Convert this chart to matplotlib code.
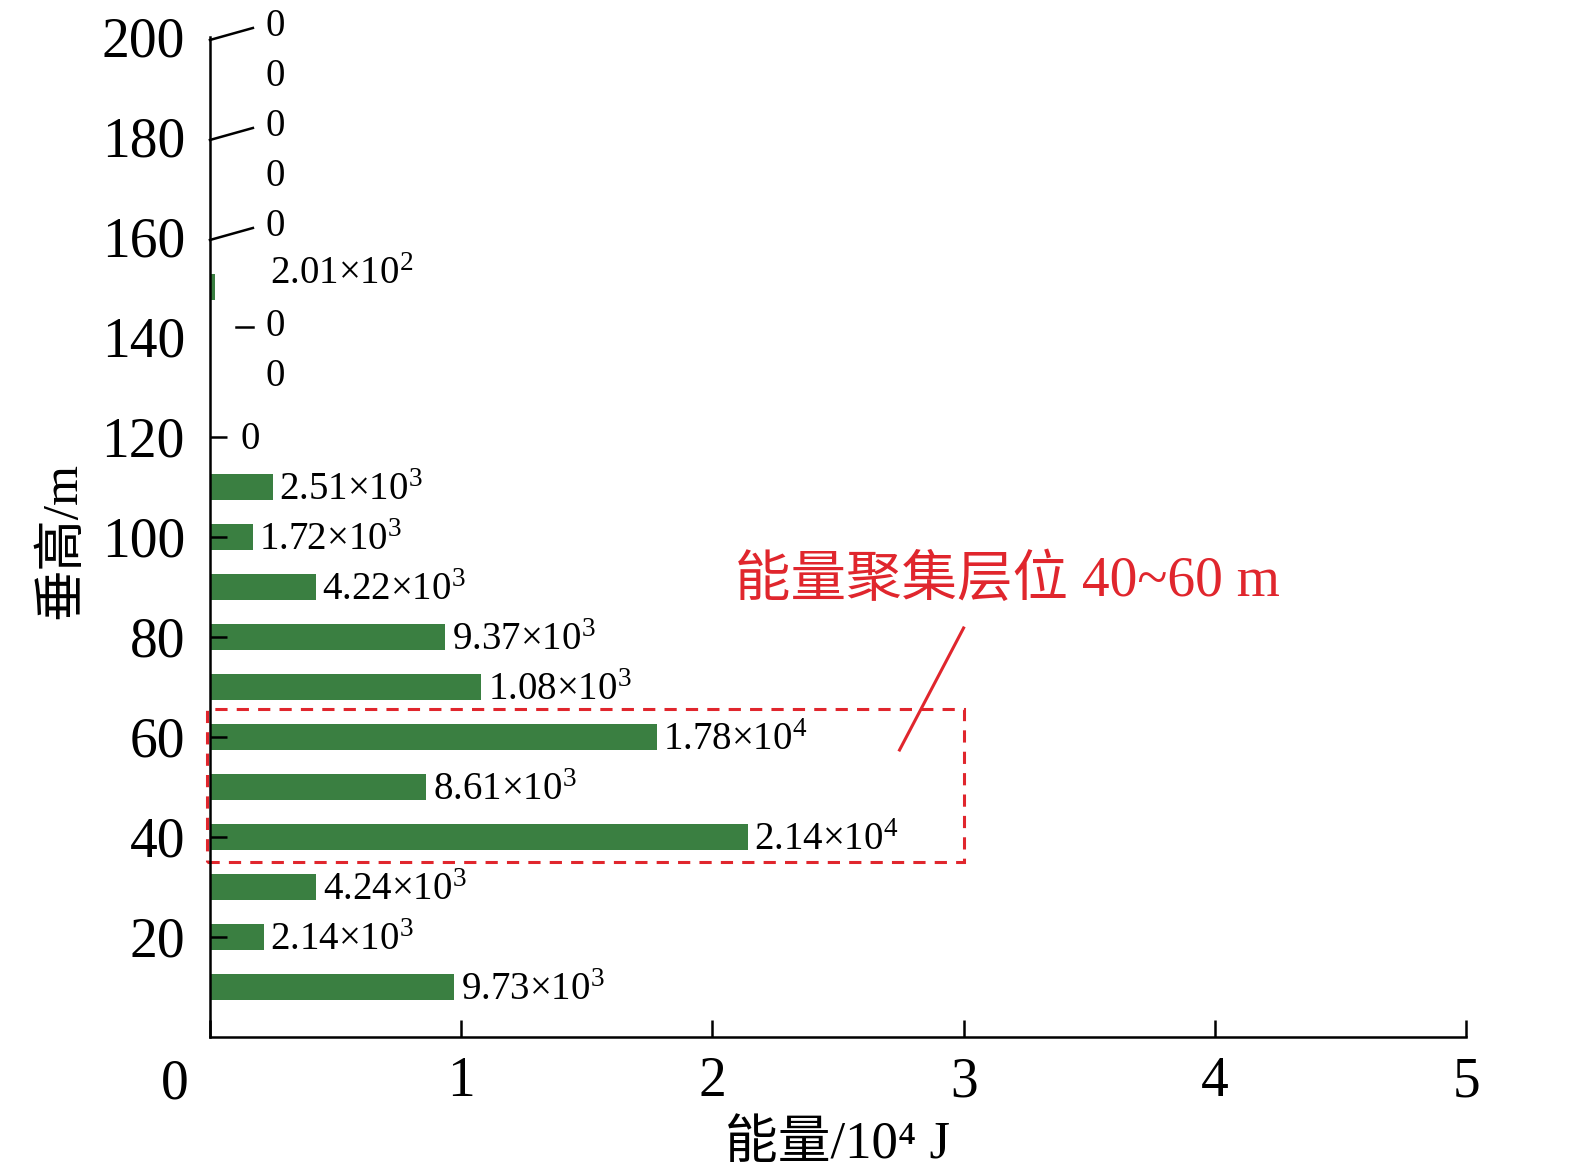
import numpy as np
import matplotlib
matplotlib.use('Agg')
import matplotlib.pyplot as plt
from matplotlib.patches import Rectangle

# data (energy in 10^4 J, height in m)
heights = [10, 20, 30, 40, 50, 60, 70, 80, 90, 100, 110, 120, 130, 140, 150, 160, 170, 180, 190, 200]
energy = [0.973, 0.214, 0.424, 2.14, 0.861, 1.78, 1.08, 0.937, 0.422, 0.172, 0.251,
          0, 0, 0, 0.0201, 0, 0, 0, 0, 0]
labels = ['9.73×10$\\mathregular{^3}$', '2.14×10$\\mathregular{^3}$', '4.24×10$\\mathregular{^3}$',
          '2.14×10$\\mathregular{^4}$', '8.61×10$\\mathregular{^3}$', '1.78×10$\\mathregular{^4}$',
          '1.08×10$\\mathregular{^3}$', '9.37×10$\\mathregular{^3}$', '4.22×10$\\mathregular{^3}$',
          '1.72×10$\\mathregular{^3}$', '2.51×10$\\mathregular{^3}$',
          '0', '0', '0', '2.01×10$\\mathregular{^2}$', '0', '0', '0', '0', '0']
xticks = [0, 1, 2, 3, 4, 5]
yticks = [20, 40, 60, 80, 100, 120, 140, 160, 180, 200]

FONT = ['Liberation Serif', 'Noto Sans CJK SC', 'DejaVu Serif']
plt.rcParams['font.family'] = FONT
plt.rcParams['mathtext.fontset'] = 'custom'
plt.rcParams['mathtext.rm'] = 'Liberation Serif'
GREEN = '#3a7f41'
RED = '#e0262d'

fig = plt.figure(figsize=(15.75, 11.74), dpi=100)
ax = fig.add_axes([0.1333, 0.1167, 0.7975, 0.8518])

ax.barh(heights, energy, height=5.2, color=GREEN)

# value labels
for h, e, lab in zip(heights, energy, labels):
    if e > 0.1:
        ax.text(e + 0.025, h - 0.8, lab, fontsize=28, va='center', ha='left')
    elif h == 150:
        ax.text(0.24, h + 2.5, lab, fontsize=28, va='center', ha='left')
    elif h == 120:
        ax.text(0.12, h - 0.5, lab, fontsize=28, va='center', ha='left')
    else:
        ax.text(0.22, h + 2, lab, fontsize=28, va='center', ha='left')

# odd leader marks near the top of the y axis
for h in [160, 180, 200]:
    ax.plot([0, 0.171], [h - 0.6, h + 1.8], color='black', lw=1.8, clip_on=False)
ax.plot([0.104, 0.171], [142, 142], color='black', lw=1.8, clip_on=False)

ax.set_xlim(0, 5)
ax.set_ylim(0, 200)
for s in ['top', 'right']:
    ax.spines[s].set_visible(False)
for s in ['left', 'bottom']:
    ax.spines[s].set_linewidth(1.8)

ax.set_xticks(xticks)
ax.set_xticklabels([''] + [str(t) for t in xticks[1:]])
ax.set_yticks(yticks)
ax.set_yticklabels([str(t) for t in yticks])
ax.tick_params(axis='both', direction='in', length=12, width=1.8, labelsize=40)
ax.tick_params(axis='x', pad=14)
ax.tick_params(axis='y', pad=18)
# ticks above 120 are not drawn on the axis
for t in ax.yaxis.get_major_ticks()[6:]:
    t.tick1line.set_visible(False)

ax.text(-0.14, -9.5, '0', fontsize=40, ha='center', va='center', clip_on=False)

# highlighted layer
ax.add_patch(Rectangle((-0.012, 35), 3.012, 30.6, fill=False, edgecolor=RED,
                       lw=2.2, ls=(0, (4, 3)), clip_on=False))
ax.plot([3.0, 2.745], [81.8, 57.4], color=RED, lw=2.2)
ax.text(2.09, 91, '能量聚集层位 40~60 m', color=RED, fontsize=40, ha='left', va='center')

fig.text(0.532, 0.025, '能量/10⁴ J', fontsize=38, ha='center', va='center')
fig.text(0.04, 0.54, '垂高/m', fontsize=37, ha='center', va='center', rotation=90)

fig.savefig('out.png', dpi=100)
